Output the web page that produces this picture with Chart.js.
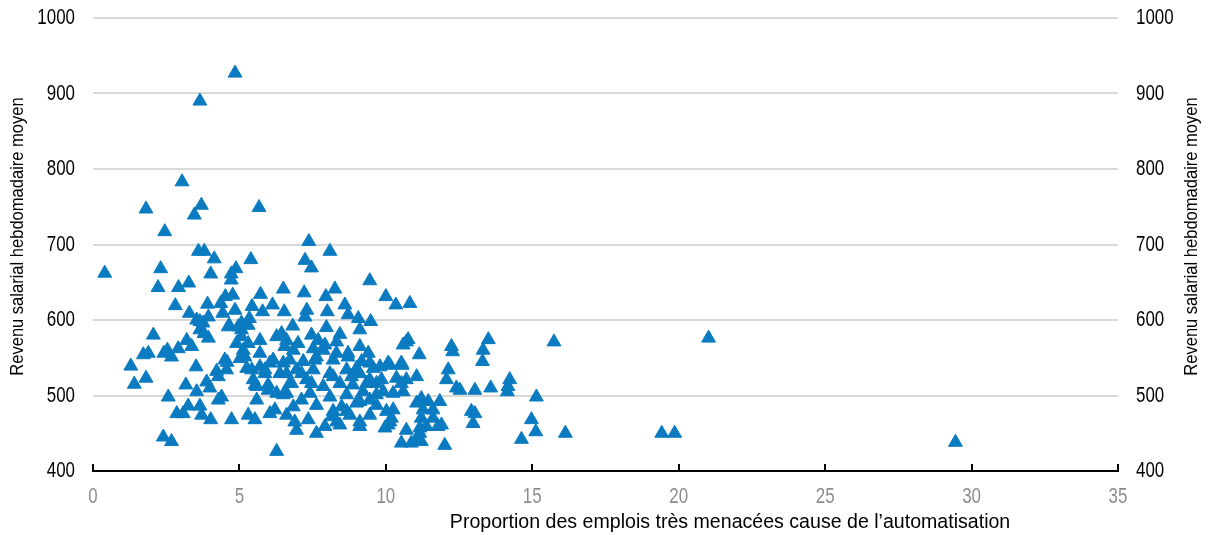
<!DOCTYPE html>
<html>
<head>
<meta charset="utf-8">
<script src="https://cdn.jsdelivr.net/npm/chart.js@4.4.1/dist/chart.umd.min.js"></script>
<style>
  html, body { margin: 0; padding: 0; background: #ffffff; }
  #wrap { width: 1210px; height: 535px; }
</style>
</head>
<body>
<div id="wrap"><canvas id="chart" width="1210" height="535"></canvas></div>
<script>
// Share of jobs at high risk of automation (%) for each region
const automationShare = [
  4.85, 3.65, 3.04, 1.81, 3.70, 3.46, 5.67, 2.45, 3.60, 3.80, 4.14, 5.39, 0.40, 2.31, 4.02, 4.88, 4.72, 4.72, 2.22, 2.92,
  3.27, 4.77, 4.52, 5.72, 6.50, 2.81, 3.29, 3.91, 4.36, 4.43, 5.43, 5.79, 6.13, 6.53, 3.65, 3.94, 4.65, 5.07, 5.34, 2.06,
  1.89, 1.72, 1.29, 1.81, 1.41, 2.42, 2.54, 2.68, 2.91, 3.20, 3.37, 3.54, 3.76, 3.79, 3.94, 3.65, 3.52, 3.17, 3.54, 2.57,
  2.86, 3.08, 3.25, 3.65, 3.71, 4.02, 3.88, 3.99, 4.22, 4.39, 4.28, 4.56, 4.58, 4.73, 2.40, 2.68, 6.27, 4.62, 4.96, 5.07,
  4.90, 5.13, 5.30, 5.02, 5.25, 5.70, 5.70, 6.04, 6.27, 6.44, 6.55, 5.47, 5.59, 5.98, 6.27, 5.59, 5.30, 5.53, 6.04, 6.21,
  6.50, 6.61, 5.70, 5.87, 7.37, 8.09, 7.24, 7.46, 9.45, 7.21, 8.26, 7.95, 8.60, 10.00, 10.34, 10.82, 7.30, 7.24, 8.00, 8.71,
  9.06, 9.48, 6.82, 7.97, 8.43, 9.11, 7.46, 10.70, 12.24, 10.76, 10.59, 11.14, 12.28, 12.13, 12.07, 12.41, 12.53, 11.05, 10.70, 10.53,
  10.59, 10.56, 10.14, 9.85, 10.25, 11.21, 11.45, 11.84, 11.27, 11.61, 11.21, 11.61, 11.78, 11.38, 10.70, 11.16, 10.53, 10.87, 11.21, 12.01,
  10.25, 10.19, 9.97, 10.08, 9.45, 9.11, 8.43, 7.92, 7.63, 6.95, 6.89, 7.35, 8.77, 8.15, 8.49, 9.00, 9.45, 7.63, 7.12, 6.50,
  7.41, 8.09, 8.66, 9.22, 9.68, 9.91, 6.72, 7.29, 7.86, 8.43, 8.87, 9.34, 9.68, 6.38, 6.95, 7.52, 8.09, 8.66, 9.11, 9.57,
  6.72, 7.18, 7.63, 8.20, 8.71, 9.17, 9.45, 10.08, 6.84, 7.52, 7.86, 8.31, 8.71, 9.11, 9.40, 6.84, 6.61, 13.50, 13.32, 13.30,
  15.74, 13.04, 13.58, 14.23, 14.17, 14.15, 15.14, 12.92, 13.04, 12.98, 14.97, 15.12, 14.63, 16.13, 11.90, 29.45, 21.02, 19.42, 19.86, 4.85,
  5.07, 5.30, 6.61, 7.00, 7.69, 4.50, 5.19, 6.15, 7.58, 5.42, 5.87, 6.61, 7.12, 4.28, 5.53, 5.98, 6.78, 7.46, 7.92, 8.32,
  10.53, 9.80, 9.00, 10.36, 9.45, 8.83, 8.20, 9.11, 10.02, 10.14, 9.11, 8.32, 11.05, 11.16, 11.05, 9.68, 8.66, 8.20
];

// Average weekly wage income for the same regions, in the same order
const weeklyWage = [
  927, 890, 783, 747, 752, 739, 749, 717, 691, 691, 681, 680, 662, 668, 661, 668, 661, 653, 643, 643,
  649, 633, 631, 634, 641, 619, 609, 621, 622, 609, 618, 611, 620, 611, 598, 604, 593, 596, 602, 580,
  556, 554, 539, 523, 515, 556, 560, 551, 562, 573, 565, 600, 596, 582, 576, 587, 538, 514, 505, 498,
  476, 476, 486, 486, 474, 468, 518, 510, 532, 498, 494, 534, 544, 468, 445, 439, 426, 591, 591, 578,
  569, 560, 569, 549, 536, 573, 556, 543, 578, 582, 565, 521, 512, 507, 503, 494, 474, 468, 476, 481,
  543, 503, 538, 534, 704, 691, 679, 669, 652, 636, 641, 631, 620, 631, 620, 622, 613, 604, 611, 607,
  602, 598, 592, 590, 581, 587, 580, 571, 565, 574, 567, 554, 558, 534, 521, 510, 507, 525, 521, 516,
  505, 540, 540, 521, 503, 496, 492, 492, 481, 481, 470, 470, 459, 459, 454, 450, 437, 437, 439, 434,
  481, 470, 457, 461, 474, 459, 461, 459, 450, 454, 465, 468, 474, 472, 485, 490, 494, 487, 494, 501,
  503, 498, 501, 505, 501, 505, 516, 521, 512, 516, 514, 516, 516, 529, 534, 534, 529, 534, 529, 536,
  547, 545, 551, 547, 551, 545, 543, 543, 560, 562, 560, 556, 556, 565, 556, 485, 474, 574, 560, 545,
  571, 507, 510, 521, 512, 505, 498, 479, 476, 463, 468, 452, 442, 450, 461, 438, 576, 450, 450, 613,
  587, 593, 573, 569, 573, 547, 551, 547, 547, 534, 529, 529, 529, 525, 514, 514, 516, 516, 567, 571,
  543, 538, 536, 523, 521, 525, 525, 492, 479, 465, 465, 465, 443, 457, 490, 487, 479, 479
];

// Axis tick values
const xTickValues = [0, 5, 10, 15, 20, 25, 30, 35];
const yTickValues = [400, 500, 600, 700, 800, 900, 1000];

const xTitle = 'Proportion des emplois très menacées cause de l’automatisation';
const yTitle = 'Revenu salarial hebdomadaire moyen';

const FONT = "'Liberation Sans Narrow', 'Arial Narrow', 'Liberation Sans', Arial, sans-serif";
const MARKER = '#0b7bc1';

// Horizontal squeeze per font size, giving the condensed lettering
const SQUEEZE = { '22': 0.77, '19': 0.87, '20.5': 0.955 };

const points = automationShare.map((v, i) => ({ x: v, y: weeklyWage[i] }));

// Draws text narrower than the regular face, keeping each label's anchor in place
const condensedText = {
  id: 'condensedText',
  beforeDraw(chart) {
    const ctx = chart.ctx;
    if (ctx.__condensed) return;
    const plainFill = ctx.fillText.bind(ctx);
    ctx.fillText = function (text, x, y, maxWidth) {
      const m = /(\d+(?:\.\d+)?)px/.exec(ctx.font);
      const k = m && SQUEEZE[m[1]] ? SQUEEZE[m[1]] : 1;
      if (k === 1) return maxWidth === undefined ? plainFill(text, x, y) : plainFill(text, x, y, maxWidth);
      ctx.save();
      ctx.translate(x, y);
      ctx.scale(k, 1);
      plainFill(text, 0, 0);
      ctx.restore();
    };
    ctx.__condensed = true;
  }
};

// Upward tick marks on the x axis, plus the axis titles
const axisDecor = {
  id: 'axisDecor',
  beforeDatasetsDraw(chart) {
    const { ctx, scales: { x }, chartArea } = chart;
    ctx.save();
    ctx.strokeStyle = '#000';
    ctx.lineWidth = 2;
    xTickValues.forEach(v => {
      const px = Math.round(x.getPixelForValue(v));
      ctx.beginPath();
      ctx.moveTo(px, chartArea.bottom);
      ctx.lineTo(px, chartArea.bottom - 7);
      ctx.stroke();
    });
    ctx.restore();
  },
  afterDraw(chart) {
    const { ctx, chartArea } = chart;
    ctx.save();
    ctx.fillStyle = '#000';
    ctx.textAlign = 'center';
    ctx.textBaseline = 'alphabetic';
    ctx.font = '20.5px ' + FONT;
    ctx.fillText(xTitle, chartArea.left + chartArea.width * 0.6215, 528);

    const midY = (chartArea.top + chartArea.bottom) / 2 - 8;
    ctx.font = '19px ' + FONT;
    ctx.textBaseline = 'middle';
    [18, 1192].forEach(cx => {
      ctx.save();
      ctx.translate(cx, midY);
      ctx.rotate(-Math.PI / 2);
      ctx.fillText(yTitle, 0, 0);
      ctx.restore();
    });
    ctx.restore();
  }
};

const yTickOptions = {
  color: '#000',
  font: { family: FONT, size: 22 },
  padding: 18,
  callback: v => String(v)
};

// Fixed box for a vertical axis, without extra room for the end labels
const fitVertical = w => s => { s.width = w; s.paddingTop = 0; s.paddingBottom = 0; };

new Chart(document.getElementById('chart'), {
  type: 'scatter',
  data: {
    datasets: [{
      data: points,
      pointStyle: 'triangle',
      pointRadius: 8,
      pointHoverRadius: 8,
      backgroundColor: MARKER,
      borderColor: MARKER,
      borderWidth: 1
    }]
  },
  options: {
    responsive: false,
    animation: false,
    devicePixelRatio: 1,
    events: [],
    clip: false,
    layout: { padding: { top: 18, right: 0, bottom: 0, left: 0 } },
    plugins: { legend: { display: false }, tooltip: { enabled: false } },
    scales: {
      x: {
        type: 'linear',
        position: 'bottom',
        min: 0,
        max: 35,
        afterBuildTicks: s => { s.ticks = xTickValues.map(v => ({ value: v })); },
        ticks: { color: '#8c8c8c', font: { family: FONT, size: 22 }, padding: 13, maxRotation: 0, callback: v => String(v) },
        grid: { drawOnChartArea: false, drawTicks: false },
        border: { display: true, color: '#000', width: 2 },
        afterFit: s => { s.height = 64; s.paddingLeft = 0; s.paddingRight = 0; }
      },
      y: {
        type: 'linear',
        position: 'left',
        min: 400,
        max: 1000,
        afterBuildTicks: s => { s.ticks = yTickValues.map(v => ({ value: v })); },
        ticks: yTickOptions,
        grid: { color: '#d9d9d9', lineWidth: 2, drawTicks: false },
        border: { display: false },
        afterFit: fitVertical(93)
      },
      y2: {
        type: 'linear',
        position: 'right',
        min: 400,
        max: 1000,
        afterBuildTicks: s => { s.ticks = yTickValues.map(v => ({ value: v })); },
        ticks: yTickOptions,
        grid: { drawOnChartArea: false, drawTicks: false },
        border: { display: false },
        afterFit: fitVertical(92)
      }
    }
  },
  plugins: [condensedText, axisDecor]
});
</script>
</body>
</html>
